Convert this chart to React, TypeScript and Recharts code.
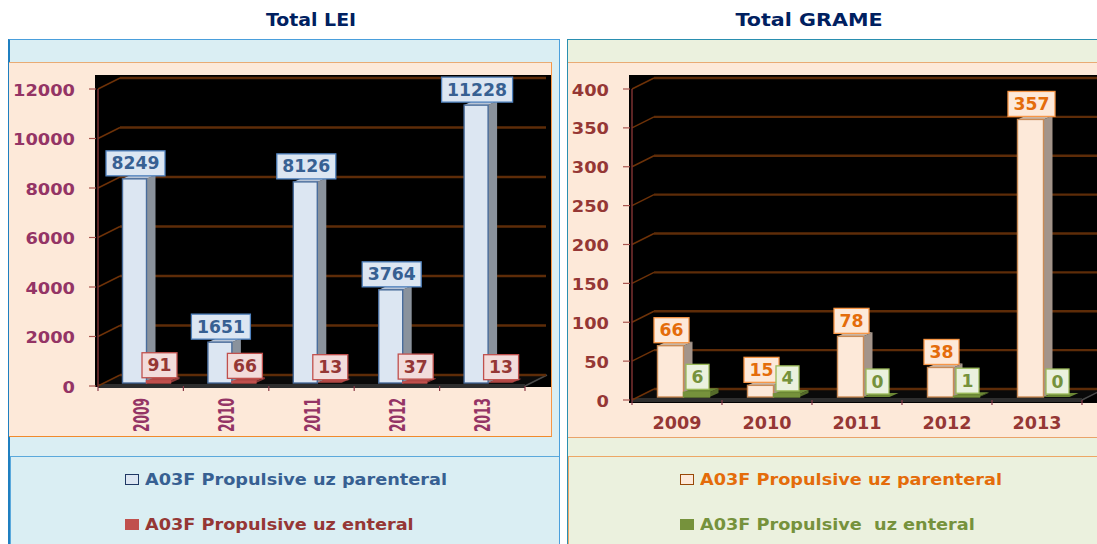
import React from "react"
import { Bar, BarChart, CartesianGrid, LabelList, Legend, XAxis, YAxis } from "recharts"

const years = ["2009", "2010", "2011", "2012", "2013"]

const leiParenteral = [8249, 1651, 8126, 3764, 11228]
const leiEnteral = [91, 66, 13, 37, 13]
const leiTicks = [0, 2000, 4000, 6000, 8000, 10000, 12000]

const gramParenteral = [66, 15, 78, 38, 357]
const gramEnteral = [6, 4, 0, 1, 0]
const gramTicks = [0, 50, 100, 150, 200, 250, 300, 350, 400]

const parenteralName = "A03F Propulsive uz parenteral"
const leiEnteralName = "A03F Propulsive uz enteral"
const gramEnteralName = "A03F Propulsive  uz enteral"

const FONT = "'DejaVu Sans', sans-serif"

// bars stand in the middle of the fake 3D floor, not on the axis itself
const BAR_DY = -3
const DEPTH_X = 9
const DEPTH_Y = 4
const BACK_DX = 22
const BACK_DY = -11

const toRows = (a: number[], b: number[]) => years.map((year, i) => ({ year, a: a[i], b: b[i] }))

function bar3d(dx: number, front: string, line: string, side: string, top: string) {
  return (props: any) => {
    const x = props.x + dx
    const y = props.y + BAR_DY
    const w = props.width
    const h = Math.max(props.height, 0)
    return (
      <g>
        <polygon
          points={`${x + w},${y} ${x + w + DEPTH_X},${y - DEPTH_Y} ${x + w + DEPTH_X},${y + h - DEPTH_Y} ${x + w},${y + h}`}
          fill={side}
        />
        <polygon points={`${x},${y} ${x + DEPTH_X},${y - DEPTH_Y} ${x + w + DEPTH_X},${y - DEPTH_Y} ${x + w},${y}`} fill={top} />
        {h > 0.5 && <rect x={x} y={y} width={w} height={h} fill={front} stroke={line} strokeWidth={1.4} />}
      </g>
    )
  }
}

function valueBox(dx: number, fill: string, stroke: string, color: string) {
  return (props: any) => {
    const text = String(props.value)
    const w = text.length * 12 + 11
    const cx = props.x + props.width / 2 + dx + 1
    const bottom = props.y + BAR_DY - 3
    return (
      <g>
        <rect x={cx - w / 2} y={bottom - 25} width={w} height={25} fill={fill} stroke={stroke} strokeWidth={1.3} />
        <text
          x={cx}
          y={bottom - 6.5}
          textAnchor="middle"
          textLength={text.length * 12}
          lengthAdjust="spacingAndGlyphs"
          fontFamily={FONT}
          fontWeight="bold"
          fontSize={17}
          fill={color}
        >
          {text}
        </text>
      </g>
    )
  }
}

function gridLine(backEnd: number, plotRight: number) {
  return (props: any) => {
    const { x1, y1, index } = props
    return (
      <g>
        {index === 0 && (
          <g>
            <polygon
              points={`${x1},${y1} ${plotRight},${y1} ${plotRight + BACK_DX},${y1 + BACK_DY} ${x1 + BACK_DX},${y1 + BACK_DY}`}
              fill="#0a0a0a"
            />
            <rect x={x1} y={y1 - 2} width={plotRight - x1} height={4} fill="#2e2e2e" />
            <line x1={plotRight} y1={y1} x2={plotRight + BACK_DX} y2={y1 + BACK_DY} stroke="#4a4a4a" strokeWidth={1.5} />
          </g>
        )}
        <line x1={x1} y1={y1} x2={x1 + BACK_DX} y2={y1 + BACK_DY} stroke="#6e3208" strokeWidth={1.5} />
        <line x1={x1 + BACK_DX} y1={y1 + BACK_DY} x2={backEnd} y2={y1 + BACK_DY} stroke="#5e2c08" strokeWidth={2.4} />
      </g>
    )
  }
}

function yTick(color: string) {
  return (props: any) => {
    const text = String(props.payload.value)
    return (
      <g>
        <line x1={props.x - 1} y1={props.y} x2={props.x + 6} y2={props.y} stroke="#a8554f" strokeWidth={1.2} />
        <text
          x={props.x - 15}
          y={props.y + 6.5}
          textAnchor="end"
          textLength={text.length * 12.4}
          lengthAdjust="spacingAndGlyphs"
          fontFamily={FONT}
          fontWeight="bold"
          fontSize={16.5}
          fill={color}
        >
          {text}
        </text>
      </g>
    )
  }
}

function xTick(color: string, band: number, rotated: boolean) {
  return (props: any) => {
    const left = props.x - band / 2
    const last = props.index === years.length - 1
    const mark = "#8a3a48"
    return (
      <g>
        <line x1={left} y1={props.y - 8} x2={left} y2={props.y - 3} stroke={mark} strokeWidth={1.2} />
        {last && <line x1={left + band} y1={props.y - 8} x2={left + band} y2={props.y - 3} stroke={mark} strokeWidth={1.2} />}
        {rotated ? (
          <text
            transform={`translate(${props.x + 8},${props.y + 21}) rotate(-90)`}
            textAnchor="middle"
            textLength={34}
            lengthAdjust="spacingAndGlyphs"
            fontFamily={FONT}
            fontWeight="bold"
            fontSize={22}
            fill={color}
          >
            {props.payload.value}
          </text>
        ) : (
          <text
            x={props.x}
            y={props.y + 21}
            textAnchor="middle"
            textLength={49}
            lengthAdjust="spacingAndGlyphs"
            fontFamily={FONT}
            fontWeight="bold"
            fontSize={17}
            fill={color}
          >
            {props.payload.value}
          </text>
        )}
      </g>
    )
  }
}

function legendRows(left: number, iconStyles: any[], colors: string[]) {
  return (props: any) => (
    <div style={{ position: "relative", height: 107 }}>
      {(props.payload || []).map((entry: any, i: number) => (
        <div key={i} style={{ position: "absolute", left, top: 33 + i * 45, height: 20, whiteSpace: "pre", color: colors[i] }}>
          <span style={{ position: "absolute", left: 0, top: 4, width: 14, height: 11, boxSizing: "border-box", ...iconStyles[i] }} />
          <span
            style={{
              position: "absolute",
              left: 20,
              top: 0,
              font: `bold 16px ${FONT}`,
              lineHeight: "20px",
              transform: "scaleX(1.105)",
              transformOrigin: "left center",
            }}
          >
            {entry.value}
          </span>
        </div>
      ))}
    </div>
  )
}

function LeiChart() {
  const dx = 5.5
  return (
    <BarChart
      width={560}
      height={544}
      data={toRows(leiParenteral, leiEnteral)}
      margin={{ top: 89, right: 35, bottom: 0, left: 0 }}
      barSize={24}
      barGap={0}
      style={{ position: "absolute", left: 0, top: 0 }}
    >
      <CartesianGrid vertical={false} horizontal={gridLine(546, 525)} />
      <XAxis dataKey="year" height={51} axisLine={false} tickLine={false} tick={xTick("#943465", 85.4, true)} interval={0} />
      <YAxis
        width={98}
        domain={[0, 12000]}
        ticks={leiTicks}
        interval={0}
        axisLine={{ stroke: "#7a3030", strokeWidth: 1.5 }}
        tickLine={false}
        tick={yTick("#943465")}
      />
      <Legend
        verticalAlign="bottom"
        height={107}
        itemSorter={null}
        wrapperStyle={{ left: 0, bottom: 0, width: 560 }}
        content={legendRows(125, [{ background: "#dce6f2", border: "1.5px solid #1f3864" }, { background: "#c0504d" }], ["#376092", "#953735"])}
      />
      <Bar dataKey="a" name={parenteralName} fill="#dce6f2" isAnimationActive={false} shape={bar3d(dx, "#dce6f2", "#4a6d9c", "#8a929c", "#b9c5d6")}>
        <LabelList dataKey="a" content={valueBox(dx, "#dce6f2", "#4f81bd", "#376092")} />
      </Bar>
      <Bar dataKey="b" name={leiEnteralName} fill="#c0504d" isAnimationActive={false} shape={bar3d(dx, "#c0504d", "#c0504d", "#8a3a38", "#b04744")}>
        <LabelList dataKey="b" content={valueBox(dx, "#f2dcdb", "#c0504d", "#953735")} />
      </Bar>
    </BarChart>
  )
}

function GramChart() {
  const dx = 6.5
  return (
    <BarChart
      width={537}
      height={544}
      data={toRows(gramParenteral, gramEnteral)}
      margin={{ top: 89, right: 15, bottom: 0, left: 0 }}
      barSize={26}
      barGap={0}
      style={{ position: "absolute", left: 560, top: 0 }}
    >
      <CartesianGrid vertical={false} horizontal={gridLine(537, 522)} />
      <XAxis dataKey="year" height={37} axisLine={false} tickLine={false} tick={xTick("#953735", 90, false)} interval={0} />
      <YAxis
        width={72}
        domain={[0, 400]}
        ticks={gramTicks}
        interval={0}
        axisLine={{ stroke: "#7a3030", strokeWidth: 1.5 }}
        tickLine={false}
        tick={yTick("#953735")}
      />
      <Legend
        verticalAlign="bottom"
        height={107}
        itemSorter={null}
        wrapperStyle={{ left: 0, bottom: 0, width: 537 }}
        content={legendRows(120, [{ background: "#fde9d9", border: "1.5px solid #984807" }, { background: "#76923c" }], ["#e46c0a", "#76923c"])}
      />
      <Bar dataKey="a" name={parenteralName} fill="#fde9d9" isAnimationActive={false} shape={bar3d(dx, "#fde9d9", "#c98a55", "#a3948a", "#c9b6a6")}>
        <LabelList dataKey="a" content={valueBox(dx, "#fde9d9", "#f79646", "#e46c0a")} />
      </Bar>
      <Bar dataKey="b" name={gramEnteralName} fill="#76923c" isAnimationActive={false} shape={bar3d(dx, "#76923c", "#76923c", "#556b2a", "#6b8735")}>
        <LabelList dataKey="b" content={valueBox(dx, "#ebf1de", "#9bbb59", "#76923c")} />
      </Bar>
    </BarChart>
  )
}

const box = (left: number, top: number, width: number, height: number, extra: React.CSSProperties): React.CSSProperties => ({
  position: "absolute",
  left,
  top,
  width,
  height,
  boxSizing: "border-box",
  ...extra,
})

const titleStyle: React.CSSProperties = {
  position: "absolute",
  top: 10,
  width: 300,
  textAlign: "center",
  font: `bold 17.5px ${FONT}`,
  color: "#002060",
}

export default function App() {
  return (
    <div style={box(0, 0, 1097, 544, { overflow: "hidden", background: "#fff" })}>
      <div style={{ ...titleStyle, left: 161, transform: "scaleX(1.08)" }}>Total LEI</div>
      <div style={{ ...titleStyle, left: 659, transform: "scaleX(1.18)" }}>Total GRAME</div>

      <div style={box(8, 39, 552, 506, { background: "#daeef3", borderLeft: "2px solid #1f7fc0", borderTop: "1.5px solid #4a9fdc", borderRight: "1.5px solid #4a9fdc" })} />
      <div style={box(9, 62, 543, 375, { background: "#fde9d9", borderTop: "1.5px solid #e9ab74", borderRight: "1.5px solid #f79646", borderBottom: "1.5px solid #f08a2c" })} />
      <div style={box(95, 75, 456, 312, { background: "#000" })} />
      <div style={box(10, 456, 549, 89, { borderTop: "1.5px solid #5aa9dc", borderLeft: "1.5px solid #5aa9dc" })} />

      <div style={box(567, 39, 531, 506, { background: "#ebf1de", borderLeft: "1.5px solid #2a8fb0", borderTop: "1.5px solid #2a8fb0" })} />
      <div style={box(568, 62, 530, 376, { background: "#fde9d9", borderTop: "1.5px solid #e9ab74", borderBottom: "1.5px solid #e9a36a" })} />
      <div style={box(629, 75, 468, 328, { background: "#000" })} />
      <div style={box(568, 456, 530, 89, { borderTop: "1.5px solid #eda765", borderLeft: "1.5px solid #eda765" })} />

      <LeiChart />
      <GramChart />
    </div>
  )
}
